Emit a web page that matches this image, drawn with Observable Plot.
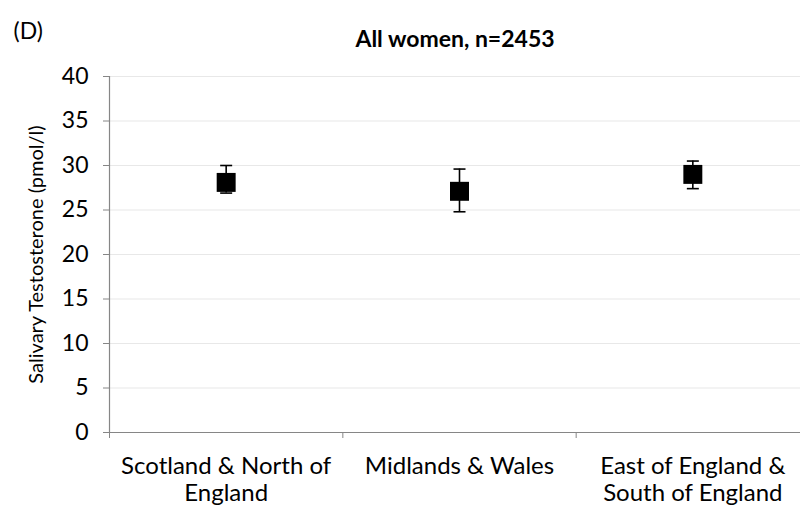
<!DOCTYPE html>
<html>
<head>
<meta charset="utf-8">
<script src="https://cdn.jsdelivr.net/npm/d3@7"></script>
<script src="https://cdn.jsdelivr.net/npm/@observablehq/plot@0.6"></script>
<style>
  html, body { margin: 0; padding: 0; background: #fff; }
  #chart svg { display: block; }
</style>
</head>
<body>
<div id="chart"></div>
<script>
const categories = ["Scotland & North of\nEngland", "Midlands & Wales", "East of England &\nSouth of England"];
const means = [28.1, 27.1, 29.0];
const lower = [26.9, 24.8, 27.4];
const upper = [30.0, 29.6, 30.5];
const yTicks = [0, 5, 10, 15, 20, 25, 30, 35, 40];
const title = "All women, n=2453";
const panel = "(D)";
const yLabel = "Salivary Testosterone (pmol/l)";

const data = categories.map((c, i) => ({cat: c, pos: i + 0.5, mean: means[i], lo: lower[i], hi: upper[i]}));

const capSymbol = {
  draw(context, size) {
    const h = 6;
    context.moveTo(-h, 0);
    context.lineTo(h, 0);
  }
};

const font = "Lato, 'Open Sans', sans-serif";

const chart = Plot.plot({
  width: 800,
  height: 516,
  marginTop: 76,
  marginBottom: 84,
  marginLeft: 109,
  marginRight: 0,
  style: {fontFamily: font, background: "#fff", overflow: "hidden"},
  x: {type: "linear", domain: [0, 3], range: [109, 809]},
  y: {domain: [0, 40], range: [432, 76]},
  marks: [
    Plot.gridY(yTicks.filter(t => t > 0), {stroke: "#d9d9d9", strokeOpacity: 0.6, strokeWidth: 1.2}),
    Plot.axisY(yTicks, {tickSize: 6, tickPadding: 15, fontSize: 23, stroke: "#868686", fill: "#000", label: null, tickFormat: d => String(d)}),
    Plot.ruleX([0], {stroke: "#868686", strokeWidth: 1.2}),
    Plot.ruleY([0], {stroke: "#868686", strokeWidth: 1.2}),
    Plot.axisX([0, 1, 2], {tickSize: 6, text: null, stroke: "#868686", label: null}),
    Plot.axisX(data.map(d => d.pos), {tickSize: 0, tickPadding: 23, fontSize: 24, lineHeight: 1.1, fill: "#000", label: null, tickFormat: (d) => categories[Math.floor(d)]}),
    Plot.ruleX(data, {x: "pos", y1: "lo", y2: "hi", stroke: "#000", strokeWidth: 1.6}),
    Plot.dot(data, {x: "pos", y: "lo", symbol: capSymbol, stroke: "#000", strokeWidth: 1.6, fill: "none"}),
    Plot.dot(data, {x: "pos", y: "hi", symbol: capSymbol, stroke: "#000", strokeWidth: 1.6, fill: "none"}),
    Plot.dot(data, {x: "pos", y: "mean", symbol: "square", r: 10.7, fill: "#000", stroke: null}),
    Plot.text([title], {frameAnchor: "top", dy: -46, fontSize: 23, fontWeight: "bold", fill: "#000"}),
    Plot.text([panel], {frameAnchor: "top-left", dx: -96, dy: -54, fontSize: 23, fill: "#000", textAnchor: "start"}),
    Plot.text([yLabel], {frameAnchor: "left", dx: -73, rotate: -90, fontSize: 20, fill: "#000", textAnchor: "middle"})
  ]
});
document.getElementById("chart").appendChild(chart);
</script>
</body>
</html>
